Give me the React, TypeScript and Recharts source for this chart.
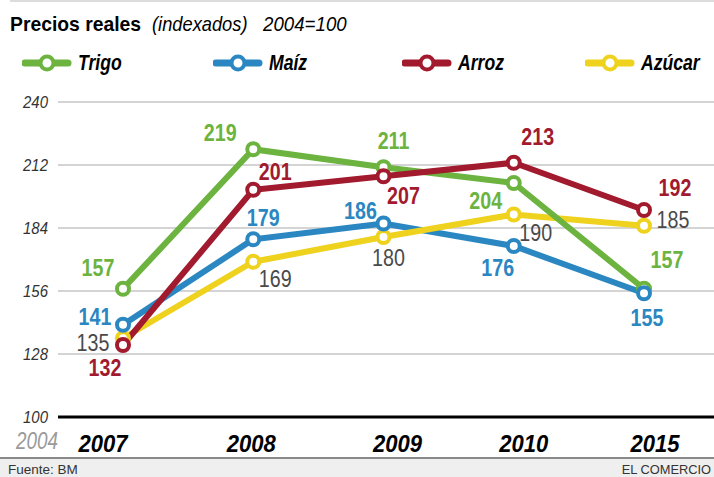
import { LineChart, Line, XAxis, YAxis, CartesianGrid, LabelList } from 'recharts'

// no condensed face installed: Liberation Sans squeezed horizontally instead
const FONT = '"Liberation Sans", Arial, sans-serif'

// valores (2004 = 100)
const years = ['2007', '2008', '2009', '2010', '2015']
const trigo = [157, 219, 211, 204, 157]
const maiz = [141, 179, 186, 176, 155]
const arroz = [132, 201, 207, 213, 192]
const azucar = [135, 169, 180, 190, 185]
const yTicks = [100, 128, 156, 184, 212, 240]

const data = years.map((year, i) => ({
    year,
    trigo: trigo[i],
    maiz: maiz[i],
    arroz: arroz[i],
    azucar: azucar[i],
}))

// offsets of each value label from its point (dx, dy)
const labelOffsets: Record<string, number[][]> = {
    trigo: [[-25, -21], [-33, -17], [10, -27], [-28, 17], [23, -29]],
    maiz: [[-28, -8], [10, -22], [-23, -13], [-16, 21], [3, 24]],
    arroz: [[-18, 22], [22, -18], [20, 19], [24, -26], [31, -23]],
    azucar: [[-30, 4], [22, 17], [5, 20], [22, 18], [29, -6]],
}
const xTickShift = [-20, -2, 14, 10, 11]

const series = [
    { key: 'trigo', name: 'Trigo', color: '#6cb33f', labelColor: '#6cb33f', bold: true, legendX: 25 },
    { key: 'maiz', name: 'Maíz', color: '#2b87c1', labelColor: '#2b87c1', bold: true, legendX: 216 },
    { key: 'arroz', name: 'Arroz', color: '#a11a2d', labelColor: '#a11a2d', bold: true, legendX: 405 },
    { key: 'azucar', name: 'Azúcar', color: '#eed21d', labelColor: '#4a4a4a', bold: false, legendX: 588 },
]
const byKey = (k: string) => series.find(s => s.key === k)!

// draw order of lines and of the circles differ in the original
const lineOrder = ['maiz', 'azucar', 'trigo', 'arroz']
const dotOrder = ['azucar', 'trigo', 'maiz', 'arroz']

function makeLabel(key: string) {
    const s = byKey(key)
    return (props: any) => {
        const px = props.x ?? props.viewBox?.x
        const py = props.y ?? props.viewBox?.y
        const [dx, dy] = labelOffsets[key][props.index] || [0, -20]
        return (
            <text
                transform={`translate(${px + dx},${py + dy + 8.5}) scale(0.82,1)`}
                textAnchor="middle"
                fill={s.labelColor}
                fontFamily={FONT}
                fontSize={24}
                fontWeight={s.bold ? 700 : 400}
            >
                {props.value}
            </text>
        )
    }
}

function XTick(props: any) {
    const { x, y, payload } = props
    const i = payload?.index ?? props.index ?? 0
    return (
        <text
            transform={`translate(${x + (xTickShift[i] || 0)},${y + 32.5}) scale(0.92,1)`}
            textAnchor="middle"
            fill="#000"
            fontFamily={FONT}
            fontSize={24}
            fontWeight={700}
            fontStyle="italic"
        >
            {payload.value}
        </text>
    )
}

function YTick(props: any) {
    const { y, payload } = props
    return (
        <text
            transform={`translate(48,${y + 6}) scale(0.88,1)`}
            textAnchor="end"
            fill="#333"
            fontFamily={FONT}
            fontSize={17}
            fontStyle="italic"
        >
            {payload.value}
        </text>
    )
}

// html text placed by its baseline, squeezed horizontally
function Txt({ x, right, base, size, sx = 1, bold = false, italic = false, color = '#000', children }: any) {
    return (
        <span
            style={{
                position: 'absolute',
                left: x,
                right,
                top: base - 0.8465 * size,
                fontSize: size,
                lineHeight: `${size}px`,
                fontWeight: bold ? 700 : 400,
                fontStyle: italic ? 'italic' : 'normal',
                color,
                whiteSpace: 'nowrap',
                transform: `scaleX(${sx})`,
                transformOrigin: right !== undefined ? 'right' : 'left',
            }}
        >
            {children}
        </span>
    )
}

function LegendMark({ color, x }: { color: string; x: number }) {
    return (
        <svg width={50} height={20} style={{ position: 'absolute', left: x - 3, top: 53 }}>
            <line x1={3} y1={10} x2={46} y2={10} stroke={color} strokeWidth={7} strokeLinecap="round" />
            <circle cx={25} cy={10} r={6.5} fill="#fff" stroke={color} strokeWidth={4} />
        </svg>
    )
}

export default function App() {
    return (
        <div style={{ position: 'relative', width: 714, height: 477, overflow: 'hidden', background: '#fff', fontFamily: FONT }}>
            <style>{'body{margin:0}'}</style>
            <div style={{ position: 'absolute', top: 0, left: 10, right: 0, height: 2, background: '#dcdcdc' }} />

            <Txt x={10} base={31} size={21} sx={0.92} bold>Precios reales</Txt>
            <Txt x={152} base={31} size={21} sx={0.87} italic>(indexados)</Txt>
            <Txt x={263} base={31} size={21} sx={0.89} italic>2004=100</Txt>

            {series.map(s => (
                <div key={s.key}>
                    <LegendMark color={s.color} x={s.legendX} />
                    <Txt x={s.legendX + 53} base={71} size={22} sx={0.8} bold italic>{s.name}</Txt>
                </div>
            ))}

            <LineChart
                width={714}
                height={477}
                data={data}
                margin={{ top: 102, right: 0, bottom: 0, left: 0 }}
                style={{ position: 'absolute', top: 0, left: 0 }}
            >
                <CartesianGrid vertical={false} stroke="#c6c6c6" strokeWidth={1.5} />
                <XAxis
                    dataKey="year"
                    height={60}
                    padding={{ left: 65, right: 70 }}
                    axisLine={{ stroke: '#000', strokeWidth: 3 }}
                    tickLine={false}
                    tickSize={0}
                    interval={0}
                    tick={<XTick />}
                />
                <YAxis
                    domain={[100, 240]}
                    ticks={yTicks}
                    width={58}
                    axisLine={false}
                    tickLine={false}
                    tickSize={0}
                    tick={<YTick />}
                />
                {lineOrder.map(k => (
                    <Line
                        key={'l-' + k}
                        type="linear"
                        dataKey={k}
                        stroke={byKey(k).color}
                        strokeWidth={6}
                        dot={false}
                        activeDot={false}
                        isAnimationActive={false}
                    />
                ))}
                {dotOrder.map(k => (
                    <Line
                        key={'d-' + k}
                        type="linear"
                        dataKey={k}
                        stroke="none"
                        strokeWidth={0}
                        dot={{ r: 6, fill: '#fff', stroke: byKey(k).color, strokeWidth: 4 }}
                        activeDot={false}
                        isAnimationActive={false}
                    >
                        <LabelList dataKey={k} content={makeLabel(k)} />
                    </Line>
                ))}
            </LineChart>

            <Txt x={16} base={449} size={23} sx={0.82} italic color="#9a9a9a">2004</Txt>

            <div style={{ position: 'absolute', top: 457, left: 0, width: 714, height: 20, background: '#efefef', borderTop: '2px solid #8a8a8a' }}>
                <Txt x={8} base={15} size={13.5} color="#333">Fuente: BM</Txt>
                <Txt right={3} base={15} size={13.5} sx={0.95} color="#333">EL COMERCIO</Txt>
            </div>
        </div>
    )
}
